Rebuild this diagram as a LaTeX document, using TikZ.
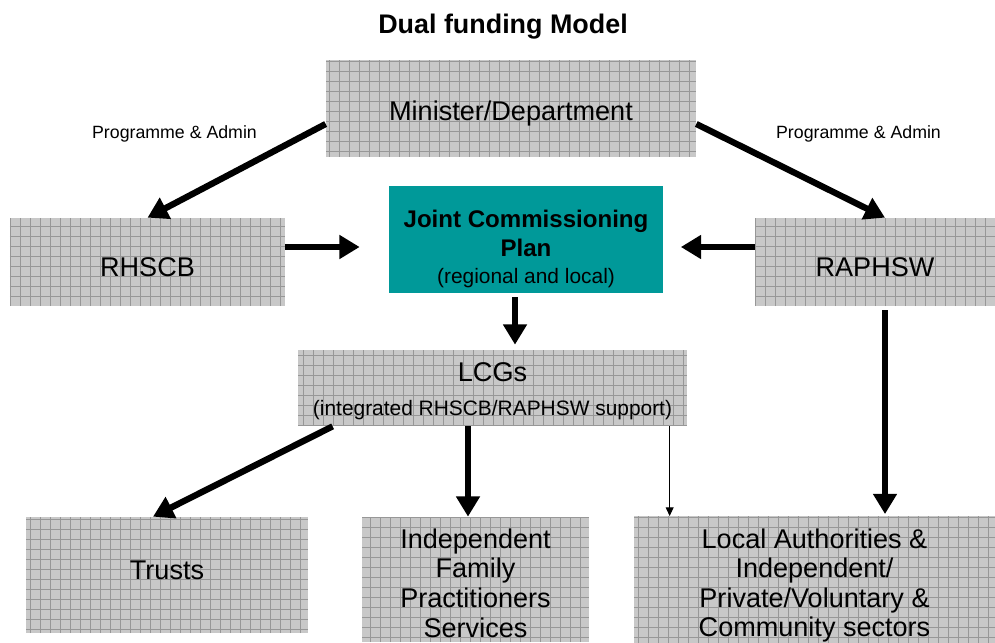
\documentclass[tikz,border=0pt]{standalone}
\usepackage{fontspec}
\setmainfont{Liberation Sans}
\usepackage{tikz}
\usetikzlibrary{arrows.meta,positioning,calc}
\definecolor{gridfill}{HTML}{C8C8C8}
\definecolor{gridrule}{HTML}{979797}
\definecolor{plan}{HTML}{009999}
\newcommand{\bigtxt}{\fontsize{15.4}{16.8}\selectfont}
\newcommand{\midtxt}{\fontsize{11.9}{14}\selectfont}
\newcommand{\smalltxt}{\fontsize{10.1}{12}\selectfont}
% invisible rule: sets height and depth of a text line
\newcommand{\padline}[2]{\rule[-#2]{0pt}{\dimexpr#1+#2\relax}}
\tikzset{block/.style={fill=gridfill,align=center,font=\bigtxt,inner sep=0pt,
  path picture={\draw[gridrule,line width=.4pt] (path picture bounding box.south west) grid[step=.2] (path picture bounding box.north east);}},
  arr/.style={-{Triangle[length=11.5pt,width=13pt]},line width=3.6pt},
  thinarr/.style={-{Triangle[length=5pt,width=4.5pt]},line width=.6pt},
  note/.style={font=\smalltxt}}

\begin{document}
\begin{tikzpicture}[x=1cm,y=1cm]
\useasboundingbox (0,0) rectangle (19.9,12.84);
\node[font=\bfseries\fontsize{15.3}{17}\selectfont] (title) at (10.06,12.3) {Dual funding Model};
\node[block,minimum width=7.4cm,minimum height=1.94cm] (min) at (10.22,10.67) {\padline{17.3pt}{0pt}Minister/Department};
\node[block,minimum width=5.5cm,minimum height=1.76cm] (rhscb) at (2.95,7.6) {\padline{16.8pt}{0pt}RHSCB};
\node[block,minimum width=4.8cm,minimum height=1.76cm] (raphsw) at (17.5,7.6) {\padline{16.8pt}{0pt}RAPHSW};
\node[fill=plan,align=center,inner sep=0pt,minimum width=5.48cm,minimum height=2.14cm,
  font=\bfseries\fontsize{13.7}{16.5}\selectfont] (jcp) at (10.52,8.05)
  {\padline{21pt}{0pt}Joint Commissioning\\Plan\\[-1.2pt]{\mdseries\midtxt (regional and local)}};
\node[block,minimum width=7.78cm,minimum height=1.52cm] (lcg) at (9.85,5.08)
  {\padline{14.5pt}{0pt}LCGs\\[2.6pt]{\midtxt (integrated RHSCB/RAPHSW support)}};
\node[block,minimum width=5.64cm,minimum height=2.32cm] (trusts) at (3.34,1.34) {\padline{0pt}{6pt}Trusts};
\node[block,minimum width=4.54cm,minimum height=2.5cm] (fam) at (9.51,1.25)
  {\padline{15.2pt}{0pt}Independent\\Family\\Practitioners\\Services};
\node[block,minimum width=7.22cm,minimum height=2.5cm] (la) at (16.29,1.25)
  {\padline{18.2pt}{0pt}Local Authorities \&\\Independent/\\Private/Voluntary \&\\Community sectors};
\foreach \x/\n in {3.49/pal,17.17/par}{\node[note] (\n) at (\x,10.16) {Programme \& Admin};}
% funding flows
\draw[arr] ([yshift=-.31cm]min.west) -- (rhscb.north);
\draw[arr] ([yshift=-.31cm]min.east) -- ([xshift=.2cm]raphsw.north);
\draw[arr,shorten >=.58cm] ([yshift=.3cm]rhscb.east) -- ([yshift=.3cm]rhscb.east -| jcp.west);
\draw[arr,shorten >=.35cm] ([yshift=.3cm]raphsw.west) -- ([yshift=.3cm]raphsw.west -| jcp.east);
\draw[arr,shorten <=.08cm,shorten >=.1cm] ([xshift=-.22cm]jcp.south) -- ([xshift=-.22cm]jcp.south |- lcg.north);
\draw[arr,shorten <=.08cm,shorten >=.04cm] ([xshift=.2cm]raphsw.south) -- ([xshift=.2cm]raphsw.south |- la.north);
\draw[arr] ([xshift=.7cm]lcg.south west) -- ([xshift=-.28cm]trusts.north);
\draw[arr] ([xshift=-.15cm]fam.north |- lcg.south) -- ([xshift=-.15cm]fam.north);
\draw[thinarr] ([xshift=.72cm]la.north west |- lcg.south) -- ([xshift=.72cm]la.north west);
\end{tikzpicture}
\end{document}
